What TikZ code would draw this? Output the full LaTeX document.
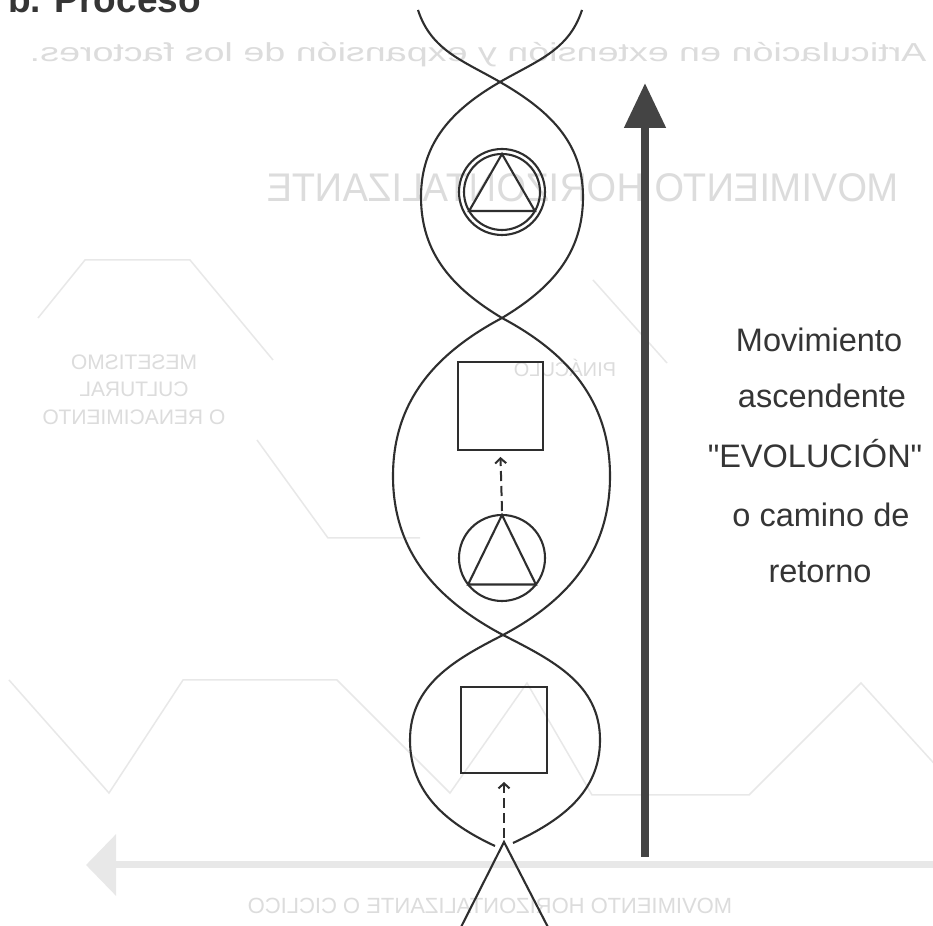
\documentclass[tikz,border=0pt]{standalone}
\usepackage{fontspec}
\setmainfont{Liberation Sans}
\usetikzlibrary{arrows.meta}
\definecolor{ink}{HTML}{2E2E2E}
\definecolor{arrowgray}{HTML}{444444}
\definecolor{txtgray}{HTML}{353535}
\definecolor{ghost}{HTML}{DCDCDC}
\definecolor{ghostline}{HTML}{E8E8E8}
\begin{document}
\begin{tikzpicture}[x=1pt,y=1pt,
  strand/.style={draw=ink, line width=2.1pt},
  shapeline/.style={draw=ink, line width=2.1pt, inner sep=0pt, outer sep=0pt},
  ringnode/.style={shapeline, circle},
  boxnode/.style={shapeline, rectangle},
  dasharrow/.style={draw=ink, line width=2pt, dash pattern=on 10pt off 5pt, -{Straight Barb[length=5pt,width=11pt]}},
  ghosttext/.style={text=ghost, inner sep=0pt, anchor=base},
  ghostwave/.style={draw=ghostline, line width=1.5pt},
  lbltext/.style={text=txtgray, inner sep=0pt, anchor=base, font=\fontsize{32.5}{38}\selectfont},
]
\useasboundingbox (0,0) rectangle (933,925);
\clip (0,0) rectangle (933,925);
\fill[white] (0,0) rectangle (933,925);

% ---- faint show-through from the reverse page ----
\node[ghosttext, xscale=-1.45, font=\fontsize{26}{30}\selectfont] (gh1) at (478,863) {Articulación en extensión y expansión de los factores.};
\node[ghosttext, xscale=-0.95, font=\fontsize{40}{44}\selectfont] (gh2) at (583,723) {MOVIMIENTO HORIZONTALIZANTE};
\node[ghosttext, xscale=-1, font=\fontsize{21}{27}\selectfont] (gh3a) at (134,555) {MESETISMO};
\node[ghosttext, xscale=-1, font=\fontsize{21}{27}\selectfont] (gh3b) at (134,528) {CULTURAL};
\node[ghosttext, xscale=-1, font=\fontsize{21}{27}\selectfont] (gh3c) at (134,500) {O RENACIMIENTO};
\node[ghosttext, xscale=-1, font=\fontsize{20}{24}\selectfont] (gh4) at (565,548) {PINÁCULO};
\node[ghosttext, xscale=-1, font=\fontsize{22}{26}\selectfont] (gh5) at (490,12) {MOVIMIENTO HORIZONTALIZANTE O CICLICO};
\draw[ghostwave] (38,607) -- (85,665) -- (190,665) -- (273,565);
\draw[ghostwave] (257,485) -- (328,387) -- (420,387);
\draw[ghostwave] (593,645) -- (667,562);
\draw[ghostwave] (9,245) -- (109,132) -- (183,245) -- (337,245) -- (450,132) -- (527,242) -- (592,130) -- (749,130) -- (861,242) -- (940,155);
\coordinate (gha) at (945,60);
\coordinate (ghb) at (86,60);
\draw[draw=ghostline, line width=7pt, -{Triangle[length=30pt,width=60pt]}] (gha) -- (ghb);

% ---- title ----
\node[anchor=base west, inner sep=0pt, text=txtgray, font=\bfseries\fontsize{37}{40}\selectfont] (title) at (8,912) {b. Proceso};

% ---- helix ----
\coordinate (tl) at (418,915);
\coordinate (tr) at (582,915);
\coordinate (x0) at (500,843);
\coordinate (x1) at (502,607);
\coordinate (x2) at (503,290);
\coordinate (b1r) at (583,728);
\coordinate (b1l) at (421,728);
\coordinate (b2l) at (393,449);
\coordinate (b2r) at (610,449);
\coordinate (b3r) at (600,185);
\coordinate (b3l) at (410,185);
\coordinate (el) at (495,79);
\coordinate (er) at (513,82);

\draw[strand] (tl) to[out=-72,in=150] (x0) to[out=-30,in=90] (b1r) to[out=-90,in=31] (x1)
  to[out=-152,in=90] (b2l) to[out=-90,in=152] (x2) to[out=-27,in=90] (b3r) to[out=-90,in=25] (er);
\draw[strand] (tr) to[out=-108,in=30] (x0) to[out=-150,in=90] (b1l) to[out=-90,in=149] (x1)
  to[out=-28,in=90] (b2r) to[out=-90,in=28] (x2) to[out=-153,in=90] (b3l) to[out=-90,in=155] (el);

% ---- top lens: double circle with triangle ----
\node[ringnode, minimum size=86pt] (c1o) at (502,733) {};
\node[ringnode, minimum size=76pt] (c1i) at (502,733) {};
\draw[strand, line join=miter] (c1i.90) -- (c1i.-30) -- (c1i.210) -- cycle;

% ---- middle lens: square above circle with triangle ----
\node[boxnode, minimum width=85pt, minimum height=88pt] (s2) at (500.5,519) {};
\node[ringnode, minimum size=86pt] (c2) at (502,367) {};
\draw[strand, line join=miter] (c2.90) -- (c2.-38) -- (c2.218) -- cycle;
\draw[dasharrow] ([yshift=4pt]c2.north) -- ([yshift=-7pt]s2.south);

% ---- lower lens: square above open triangle ----
\node[boxnode, minimum width=86pt, minimum height=86pt] (s3) at (504,195) {};
\coordinate (t3) at (504,83);
\coordinate (t3l) at (457,-10);
\coordinate (t3r) at (552,-10);
\draw[strand, line join=miter] (t3l) -- (t3) -- (t3r);
\draw[dasharrow] ([yshift=4pt]t3) -- ([yshift=-9pt]s3.south);

% ---- ascending arrow ----
\coordinate (upbot) at (645,68);
\coordinate (uptop) at (645,842);
\draw[draw=arrowgray, line width=8pt, -{Triangle[length=45pt,width=40pt]}] (upbot) -- (uptop);

% ---- label ----
\node[lbltext] (l1) at (819,573) {Movimiento};
\node[lbltext] (l2) at (822,517) {ascendente};
\node[lbltext] (l3) at (815,457) {\textquotedbl EVOLUCIÓN\textquotedbl};
\node[lbltext] (l4) at (821,398) {o camino de};
\node[lbltext] (l5) at (820,342) {retorno};
\end{tikzpicture}
\end{document}
